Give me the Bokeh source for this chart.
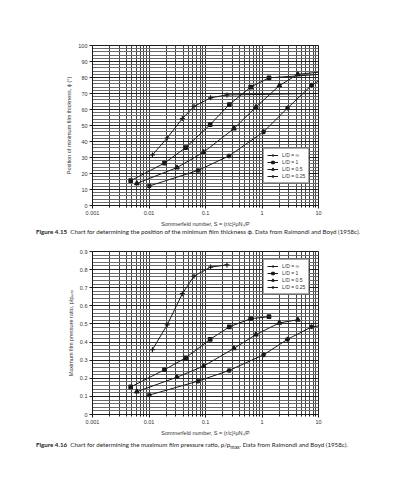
from bokeh.plotting import figure
from bokeh.models import (Range1d, FixedTicker, SingleIntervalTicker, CustomJSTickFormatter,
                          Legend, LegendItem, Div)
from bokeh.layouts import column
from bokeh.embed import file_html
from bokeh.resources import INLINE

# ---------------- data ----------------
x_ticks = [0.001, 0.01, 0.1, 1, 10]
x_minor = [k * 10.0 ** d for d in range(-3, 1) for k in range(2, 10)]
labels = ["L/D = \u221e", "L/D = 1", "L/D = 0.5", "L/D = 0.25"]

# Figure 4.15: position of minimum film thickness (deg)
S_inf = [0.0115, 0.0210, 0.0389, 0.0626, 0.123, 0.240]
phi_inf = [31.6, 42.2, 54.3, 61.9, 67.3, 69.1]
S_inf_line = S_inf + [10]
phi_inf_line = phi_inf + [70.0]

S_1 = [0.00474, 0.0188, 0.0446, 0.121, 0.264, 0.631, 1.33]
phi_1 = [15.5, 26.5, 36.2, 50.6, 63.1, 74.0, 79.8]
S_1_line = S_1 + [10]
phi_1_line = phi_1 + [81.9]

S_05 = [0.00609, 0.0313, 0.0923, 0.319, 0.779, 2.03, 4.31]
phi_05 = [13.8, 23.7, 33.3, 48.1, 61.5, 74.9, 82.0]
S_05_line = S_05 + [10]
phi_05_line = phi_05 + [83.3]

S_025 = [0.0101, 0.0736, 0.261, 1.07, 2.83, 7.57, 16.2]
phi_025 = [12.2, 21.9, 31.0, 46.1, 60.9, 75.2, 82.3]

# Figure 4.16: maximum film pressure ratio
r_inf = [0.358, 0.495, 0.667, 0.764, 0.814, 0.826]
r_1 = [0.152, 0.247, 0.313, 0.415, 0.484, 0.529, 0.540]
r_05 = [0.126, 0.206, 0.267, 0.365, 0.441, 0.506, 0.523]
r_025 = [0.107, 0.184, 0.243, 0.330, 0.415, 0.484, 0.497]

FONT = "Liberation Sans"
INK = "#1a1a1a"


def make_fig(height, top, bottom, y_max, y_int, ytitle, yfmt):
    p = figure(x_axis_type="log", x_range=Range1d(0.001, 10), y_range=Range1d(0, y_max),
               width=377, height=height, min_border_left=92, min_border_right=59,
               min_border_top=top, min_border_bottom=bottom,
               output_backend="svg", toolbar_location=None)
    p.outline_line_color = INK
    p.background_fill_color = "white"
    p.border_fill_color = "white"
    xt = FixedTicker(ticks=x_ticks, minor_ticks=x_minor)
    p.xaxis.ticker = xt
    p.xgrid.ticker = xt
    p.xaxis.formatter = CustomJSTickFormatter(code="return tick.toString();")
    p.xgrid.grid_line_color = "#333333"
    p.xgrid.minor_grid_line_color = "#444444"
    p.xgrid.grid_line_width = 1
    yt = SingleIntervalTicker(interval=y_int, num_minor_ticks=5)
    p.yaxis.ticker = yt
    p.ygrid.ticker = yt
    p.yaxis.formatter = CustomJSTickFormatter(code=yfmt)
    p.ygrid.grid_line_color = "#222222"
    p.ygrid.minor_grid_line_color = "#6a6a6a"
    for ax in (p.xaxis[0], p.yaxis[0]):
        ax.major_label_text_font = FONT
        ax.major_label_text_font_size = "5.5px"
        ax.major_label_text_color = "#333333"
        ax.axis_label_text_font = FONT
        ax.axis_label_text_font_size = "5.5px"
        ax.axis_label_text_font_style = "normal"
        ax.axis_label_text_color = "#333333"
        ax.axis_line_color = INK
        ax.major_tick_line_color = INK
        ax.minor_tick_line_color = INK
        ax.major_tick_out = 3
        ax.major_tick_in = 0
        ax.minor_tick_out = 2
        ax.minor_tick_in = 0
        ax.major_label_standoff = 2
        ax.axis_label_standoff = 3
    p.yaxis.minor_tick_line_color = None
    p.xaxis.axis_label = "Sommerfeld number, S = (r/c)\u00b2\u03bcN\u209b/P"
    p.yaxis.axis_label = ytitle
    return p


def add_series(p, xs_line, ys_line, xs, ys, marker, size, label, items):
    r1 = p.line(xs_line, ys_line, line_color=INK, line_width=1)
    r2 = p.scatter(xs, ys, marker=marker, size=size, line_color=INK, fill_color=INK,
                   line_width=1.2)
    items.append(LegendItem(label=label, renderers=[r1, r2]))


def add_legend(p, items, loc):
    leg = Legend(items=items, location=loc, label_text_font=FONT, label_text_font_size="5px",
                 label_text_color="#333333", glyph_width=11, glyph_height=6, label_height=6,
                 label_standoff=4, spacing=1, padding=3, margin=0,
                 border_line_color="#555555", border_line_width=1,
                 background_fill_color="white", background_fill_alpha=1)
    p.add_layout(leg)


def caption(num, body, shift):
    style = ("font-family:Lato;font-size:6.2px;color:#222;margin:0;padding:0 0 0 36px;"
             "white-space:nowrap;line-height:16px;position:relative;top:%dpx;" % shift)
    return Div(text='<div style="' + style + '"><b>' + num + '</b>&nbsp; ' + body + '</div>',
               width=377, height=16, margin=(0, 0, 0, 0))


# ---- figure 4.15 ----
p1 = make_fig(229, 45, 24, 100, 10,
              "Position of minimum film thickness, \u03d5 (\u00b0)",
              "return tick.toString();")
items1 = []
add_series(p1, S_inf_line, phi_inf_line, S_inf, phi_inf, "cross", 5, labels[0], items1)
add_series(p1, S_1_line, phi_1_line, S_1, phi_1, "square", 3.5, labels[1], items1)
add_series(p1, S_05_line, phi_05_line, S_05, phi_05, "triangle", 4.5, labels[2], items1)
add_series(p1, S_025, phi_025, S_025, phi_025, "asterisk", 5, labels[3], items1)
add_legend(p1, items1, (171, 22))

cap1 = caption("Figure 4.15", "Chart for determining the position of the minimum film thickness "
               "\u03d5. Data from Raimondi and Boyd (1958c).", -7)

# ---- figure 4.16 ----
p2 = make_fig(193, 6, 24, 0.9, 0.1,
              "Maximum film pressure ratio, p/p\u2098\u2090\u2093",
              "return tick == 0 ? '0' : tick.toFixed(1);")
items2 = []
add_series(p2, S_inf, r_inf, S_inf, r_inf, "cross", 5, labels[0], items2)
add_series(p2, S_1, r_1, S_1, r_1, "square", 3.5, labels[1], items2)
add_series(p2, S_05, r_05, S_05, r_05, "triangle", 4.5, labels[2], items2)
add_series(p2, S_025, r_025, S_025, r_025, "asterisk", 5, labels[3], items2)
add_legend(p2, items2, (171, 120))

cap2 = caption("Figure 4.16", "Chart for determining the maximum film pressure ratio, "
               "p/p<sub>max</sub>. Data from Raimondi and Boyd (1958c).", -3)

layout = column(p1, cap1, p2, cap2, spacing=0)
open("out.html", "w").write(file_html(layout, INLINE))
